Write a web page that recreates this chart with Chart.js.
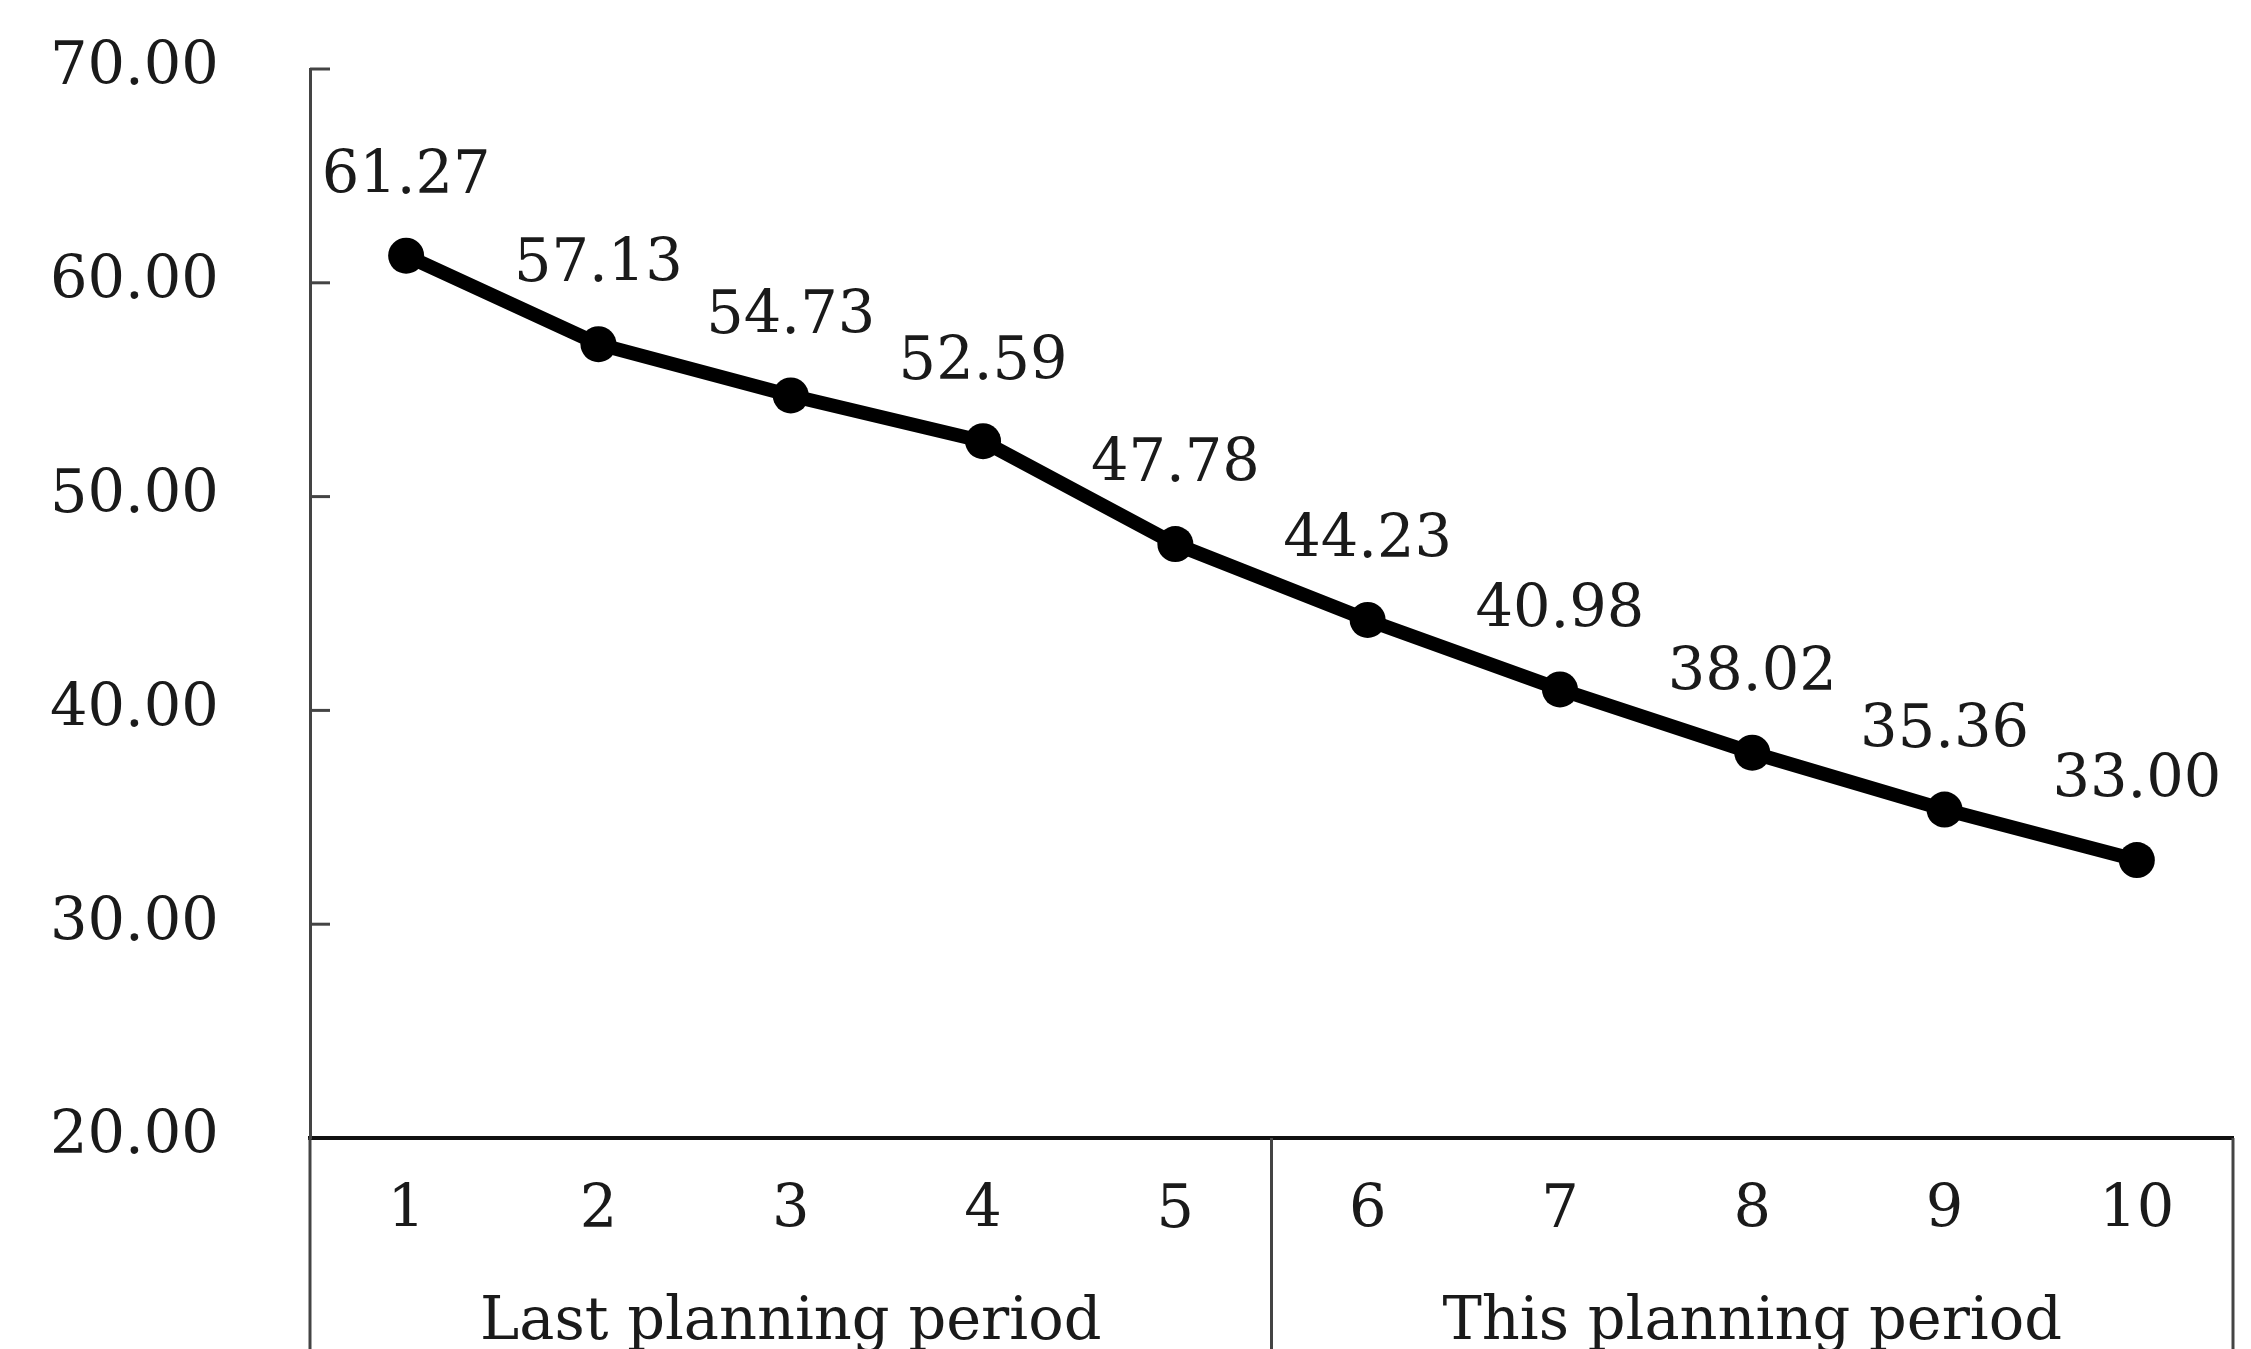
<!doctype html>
<html lang="en">
  <head>
    <meta charset="utf-8">
    <title>Planning period chart</title>
    <script src="https://cdn.jsdelivr.net/npm/chart.js"></script>
    <style>
      html, body { margin: 0; padding: 0; background: #fff; }
      #wrap { width: 2251px; height: 1349px; position: relative; }
    </style>
  </head>
  <body>
    <div id="wrap">
      <canvas id="myChart"></canvas>
    </div>
    <script>
      // chart data
      const periods = ['1', '2', '3', '4', '5', '6', '7', '8', '9', '10'];
      const groups = ['Last planning period', 'This planning period'];
      const values = [61.27, 57.13, 54.73, 52.59, 47.78, 44.23, 40.98, 38.02, 35.36, 33.00];
      const yTicks = [20, 30, 40, 50, 60, 70];

      const FONT = "'DejaVu Serif', 'Liberation Serif', serif";
      const TEXT = '#1a1a1a';
      const AXIS = '#444';

      // labels above points, inner tick marks and the table lines under the axis
      const extras = {
        id: 'extras',
        afterDatasetsDraw(chart) {
          const ctx = chart.ctx;
          const meta = chart.getDatasetMeta(0);
          ctx.save();
          ctx.font = '59px ' + FONT;
          ctx.fillStyle = TEXT;
          ctx.textAlign = 'center';
          ctx.textBaseline = 'middle';
          meta.data.forEach((pt, i) => {
            ctx.fillText(values[i].toFixed(2), pt.x, pt.y - 78);
          });
          ctx.restore();
        },
        afterDraw(chart) {
          const ctx = chart.ctx;
          const area = chart.chartArea;
          const x = chart.scales.x;
          const y = chart.scales.y;
          ctx.save();
          ctx.strokeStyle = AXIS;
          ctx.lineWidth = 3;
          // inner tick marks on y axis
          yTicks.forEach(v => {
            if (v === 20) return;
            const py = y.getPixelForValue(v);
            ctx.beginPath();
            ctx.moveTo(area.left, py);
            ctx.lineTo(area.left + 20, py);
            ctx.stroke();
          });
          // vertical lines of the category table
          const mid = (x.getPixelForValue(4) + x.getPixelForValue(5)) / 2;
          [area.left, mid, area.right].forEach(px => {
            ctx.beginPath();
            ctx.moveTo(px, area.bottom);
            ctx.lineTo(px, chart.height);
            ctx.stroke();
          });
          ctx.restore();
        }
      };

      const ctx = document.getElementById('myChart').getContext('2d');
      new Chart(ctx, {
        type: 'line',
        data: {
          labels: periods,
          datasets: [{
            data: values,
            borderColor: '#000',
            backgroundColor: '#000',
            borderWidth: 14,
            pointRadius: 18,
            pointHoverRadius: 18,
            pointBackgroundColor: '#000',
            pointBorderWidth: 0,
            tension: 0
          }]
        },
        options: {
          responsive: true,
          maintainAspectRatio: false,
          animation: false,
          layout: { padding: { top: 69, right: 17, left: 50, bottom: 0 } },
          plugins: { legend: { display: false }, tooltip: { enabled: false } },
          scales: {
            x: {
              offset: true,
              grid: { display: false, drawTicks: false },
              border: { display: true, color: '#111', width: 4 },
              ticks: { font: { family: FONT, size: 59 }, color: TEXT, padding: 38 },
              afterFit(scale) { scale.height = 110; }
            },
            x2: {
              type: 'category',
              labels: groups,
              position: 'bottom',
              offset: true,
              grid: { display: false, drawTicks: false },
              border: { display: false },
              ticks: { font: { family: FONT, size: 59 }, color: TEXT, padding: 40 },
              afterFit(scale) { scale.height = 101; }
            },
            y: {
              min: 20,
              max: 70,
              afterBuildTicks(scale) { scale.ticks = yTicks.map(v => ({ value: v })); },
              grid: { display: false, drawTicks: false },
              border: { display: true, color: AXIS, width: 3 },
              ticks: {
                font: { family: FONT, size: 59 },
                color: TEXT,
                padding: 0,
                crossAlign: 'far',
                callback: v => Number(v).toFixed(2)
              },
              afterFit(scale) { scale.width = 260; }
            }
          }
        },
        plugins: [extras]
      });
    </script>
  </body>
</html>
